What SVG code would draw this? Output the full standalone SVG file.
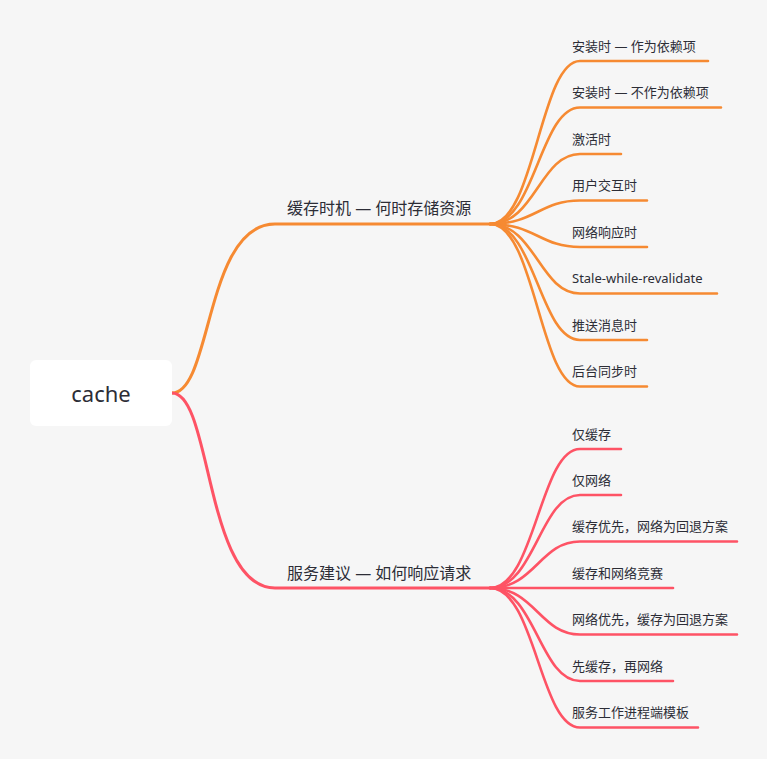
<svg xmlns="http://www.w3.org/2000/svg" width="767" height="759" viewBox="0 0 767 759">
<style>
.bg{fill:#f6f6f6}
.o{fill:none;stroke:#f68a32;stroke-linecap:round}
.r{fill:none;stroke:#fe5365;stroke-linecap:round}
.br{stroke-width:3}
.lf{stroke-width:2.6}
.t{font-family:"Noto Sans","Noto Sans CJK SC",sans-serif;fill:#2c2d36}
.leaf{font-size:13px}
.main{font-size:16px}
</style>
<rect class="bg" x="0" y="0" width="767" height="759"/>
<g id="connectors">
<path class="o br" d="M172,393 C212,393 205,224 275,224 L490,224"/>
<path class="r br" d="M172,393 C212,393 205,588 275,588 L490,588"/>
<path class="o lf" d="M490,224 C535,224 540,61 580,61 L708,61"/>
<path class="o lf" d="M490,224 C535,224 540,107.5 580,107.5 L721,107.5"/>
<path class="o lf" d="M490,224 C535,224 540,154 580,154 L621,154"/>
<path class="o lf" d="M490,224 C535,224 540,200.5 580,200.5 L647,200.5"/>
<path class="o lf" d="M490,224 C535,224 540,247 580,247 L647,247"/>
<path class="o lf" d="M490,224 C535,224 540,293.5 580,293.5 L717,293.5"/>
<path class="o lf" d="M490,224 C535,224 540,340 580,340 L647,340"/>
<path class="o lf" d="M490,224 C535,224 540,386.5 580,386.5 L647,386.5"/>
<path class="r lf" d="M490,588 C535,588 540,449 580,449 L621,449"/>
<path class="r lf" d="M490,588 C535,588 540,495 580,495 L621,495"/>
<path class="r lf" d="M490,588 C535,588 540,541.5 580,541.5 L737,541.5"/>
<path class="r lf" d="M490,588 L673,588"/>
<path class="r lf" d="M490,588 C535,588 540,634.5 580,634.5 L737,634.5"/>
<path class="r lf" d="M490,588 C535,588 540,681 580,681 L673,681"/>
<path class="r lf" d="M490,588 C535,588 540,727.5 580,727.5 L698,727.5"/>
</g>
<g id="root">
<rect x="30" y="360" width="142" height="66" rx="6" fill="#ffffff"/>
<text class="t" x="101" y="402" font-size="22" text-anchor="middle">cache</text>
</g>
<g id="branch1"><text class="t main" x="287" y="214">缓存时机 — 何时存储资源</text></g>
<g id="branch2"><text class="t main" x="287" y="579">服务建议 — 如何响应请求</text></g>
<g id="o1"><text class="t leaf" x="572" y="51">安装时 — 作为依赖项</text></g>
<g id="o2"><text class="t leaf" x="572" y="97">安装时 — 不作为依赖项</text></g>
<g id="o3"><text class="t leaf" x="572" y="144">激活时</text></g>
<g id="o4"><text class="t leaf" x="572" y="190">用户交互时</text></g>
<g id="o5"><text class="t leaf" x="572" y="237">网络响应时</text></g>
<g id="o6"><text class="t leaf" x="572" y="283">Stale-while-revalidate</text></g>
<g id="o7"><text class="t leaf" x="572" y="330">推送消息时</text></g>
<g id="o8"><text class="t leaf" x="572" y="376">后台同步时</text></g>
<g id="r1"><text class="t leaf" x="572" y="439">仅缓存</text></g>
<g id="r2"><text class="t leaf" x="572" y="485">仅网络</text></g>
<g id="r3"><text class="t leaf" x="572" y="531">缓存优先，网络为回退方案</text></g>
<g id="r4"><text class="t leaf" x="572" y="578">缓存和网络竞赛</text></g>
<g id="r5"><text class="t leaf" x="572" y="624">网络优先，缓存为回退方案</text></g>
<g id="r6"><text class="t leaf" x="572" y="671">先缓存，再网络</text></g>
<g id="r7"><text class="t leaf" x="572" y="717">服务工作进程端模板</text></g>
</svg>
